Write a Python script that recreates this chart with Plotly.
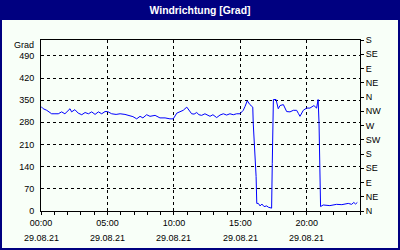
import plotly.graph_objects as go

# ---- data ----
times = ["00:00","00:10","00:26","00:48","01:03","01:18","01:33","01:48","02:11","02:18",
         "02:33","02:48","03:04","03:19","03:34","03:49","04:04","04:19","04:34","04:49",
         "05:01","05:19","05:39","05:57","06:19","06:42","06:55","07:12","07:27","07:40",
         "07:57","08:12","08:35","08:57","09:20","09:42","09:57","10:13","10:28","10:42",
         "10:58","11:08","11:20","11:31","11:43","11:53","12:05","12:20","12:43","12:56",
         "13:13","13:28","13:43","13:58","14:13","14:28","14:43","14:58","15:13","15:21",
         "15:31","15:43","15:56","15:58","16:06","16:11","16:14","16:21","16:29","16:37",
         "16:47","16:59","17:06","17:14","17:21","17:24","17:29","17:41","17:51","17:59",
         "18:14","18:29","18:44","18:59","19:14","19:22","19:29","19:44","19:59","20:14",
         "20:32","20:44","20:51","20:55","20:59","21:02","21:14","21:44","22:14","22:38",
         "23:07","23:22","23:32","23:40","23:48"]
values = [330,323,318,307,307,307,313,307,323,313,
          320,309,304,311,307,313,305,313,307,314,
          314,307,305,307,305,301,298,291,299,294,
          304,299,302,294,294,291,291,309,313,318,
          328,318,307,306,311,304,302,307,299,304,
          295,303,307,303,307,304,307,307,318,330,
          348,336,328,278,193,109,24,24,16,22,
          14,16,12,9,9,150,352,352,323,333,
          336,314,313,318,318,308,299,318,325,325,
          333,325,352,279,98,14,19,17,21,20,
          24,21,27,22,27]

day = "2021-08-29"
x_tick_hours = ["00:00", "05:00", "10:00", "15:00", "20:00"]
x_tick_dates = ["29.08.21", "29.08.21", "29.08.21", "29.08.21", "29.08.21"]
left_ticks = [0, 70, 140, 210, 280, 350, 420, 490]
right_tick_vals = [0, 45, 90, 135, 180, 225, 270, 315, 360, 405, 450, 495, 540]
right_tick_text = ["N", "NE", "E", "SE", "S", "SW", "W", "NW", "N", "NE", "E", "SE", "S"]

x = [f"{day} {t}" for t in times]
tick_x = [f"{day} {t}" for t in x_tick_hours]

BG = "#F8FFF8"
NAVY = "#000080"
FONT = "Liberation Sans"

fig = go.Figure()
fig.add_trace(go.Scatter(x=x, y=values, mode="lines",
                         line=dict(color="#0000FF", width=1), showlegend=False,
                         hoverinfo="skip"))
# invisible trace for right axis
fig.add_trace(go.Scatter(x=[x[0]], y=[0], yaxis="y2", mode="markers",
                         marker=dict(opacity=0), showlegend=False, hoverinfo="skip"))

L, R, T, B = 41, 40, 40, 39
W, H = 400, 250
pw, ph = W - L - R, H - T - B

def px2x(p):
    return (p - L) / pw

def py2y(p):
    return (H - B - p) / ph

fig.update_layout(
    width=W, height=H,
    margin=dict(l=L, r=R, t=T, b=B, pad=0),
    paper_bgcolor=NAVY,
    plot_bgcolor=BG,
    font=dict(family=FONT, size=9, color="black"),
    title=dict(text="<b>Windrichtung [Grad]</b>", x=0.5, xanchor="center",
               xref="container", yref="container", y=1 - 10 / H, yanchor="middle",
               font=dict(family=FONT, size=10.4, color="white")),
    xaxis=dict(type="date",
               range=[f"{day} 00:00", "2021-08-30 00:00"],
               tickvals=tick_x, ticktext=x_tick_hours,
               ticks="outside", ticklen=3, tickcolor="black", tickwidth=1,
               showline=True, linecolor="black", linewidth=1, mirror=True,
               showgrid=True, gridcolor="black", gridwidth=1, griddash="3px,3px",
               zeroline=False,
               minor=dict(dtick=3600000, tick0=f"{day} 00:00", ticks="outside",
                          ticklen=3, tickcolor="black", showgrid=False),
               tickfont=dict(size=9)),
    yaxis=dict(range=[0, 540], tickvals=left_ticks,
               ticks="", showline=True, linecolor="black", linewidth=1,
               showgrid=True, gridcolor="black", gridwidth=1, griddash="3px,3px",
               zeroline=False, ticklabelstandoff=4, tickfont=dict(size=9)),
    yaxis2=dict(range=[0, 540], overlaying="y", side="right",
                tickvals=right_tick_vals, ticktext=right_tick_text,
                ticks="outside", ticklen=3, tickcolor="black",
                showline=True, linecolor="black", linewidth=1,
                showgrid=False, zeroline=False, tickfont=dict(size=9)),
    shapes=[dict(type="rect", xref="paper", yref="paper", layer="below",
                 x0=px2x(2), x1=px2x(398), y0=py2y(248), y1=py2y(20),
                 fillcolor=BG, line=dict(width=0))],
)

annotations = [dict(text="Grad", xref="paper", yref="paper", x=px2x(36), y=py2y(45),
                    xanchor="right", yanchor="middle", showarrow=False,
                    font=dict(size=9, family=FONT, color="black"))]
for tx, d in zip(tick_x, x_tick_dates):
    annotations.append(dict(text=d, xref="x", yref="paper", x=tx, y=py2y(238),
                            xanchor="center", yanchor="middle", showarrow=False,
                            font=dict(size=9, family=FONT, color="black")))
fig.update_layout(annotations=annotations)

fig.write_html("out.html")
